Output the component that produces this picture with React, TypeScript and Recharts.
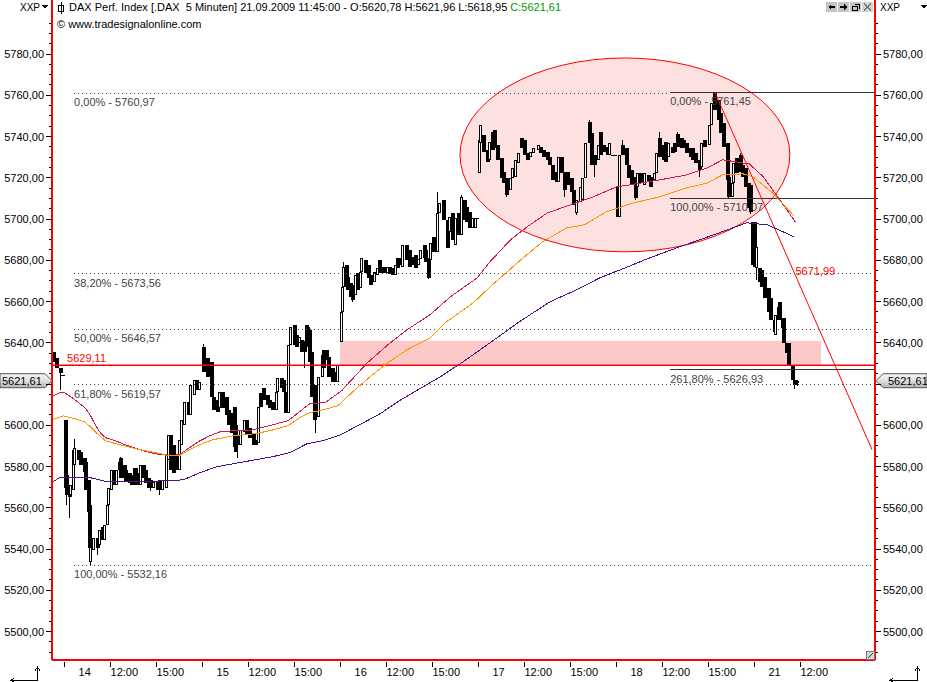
import React from 'react';
import {
  Bar,
  ComposedChart,
  Line,
  ReferenceArea,
  ReferenceDot,
  ReferenceLine,
  XAxis,
  YAxis,
} from 'recharts';

// 5 minute bars counted from 14.09. 09:00, one day is 108 bars
const bars13 = [-9, -7, -4, -2];
const opens13 = [5635.7, 5632.8, 5627.9, 5624.5];
const closes13 = [5630.8, 5627.9, 5625.5, 5624];

const bars14 = [0, 1, 3, 4, 6, 7, 10, 12, 15, 16, 18, 19, 20, 22, 25, 27, 29, 31, 33, 34, 36, 38, 40, 42, 43, 46, 47, 50, 52, 54, 55, 58, 59, 61, 63, 65, 67, 69, 72, 74, 76, 79, 81, 82, 85, 87, 89, 91, 93, 96, 98, 101, 103, 105];
const opens14 = [5602.7, 5576.1, 5571.2, 5566.4, 5568.8, 5580.9, 5588.2, 5587.2, 5584.3, 5582.4, 5573.6, 5561.5, 5533.9, 5539.7, 5545.5, 5542.2, 5550.9, 5544.6, 5551.8, 5561.5, 5568.8, 5578.5, 5571.2, 5578.5, 5584.3, 5580.9, 5578.5, 5577, 5576.1, 5572.2, 5579.4, 5577, 5571.2, 5580.9, 5578.5, 5574.6, 5573.6, 5569.8, 5572.7, 5573.6, 5568.8, 5569.8, 5583.3, 5595.4, 5590.6, 5585.8, 5578.5, 5590.6, 5600.3, 5611.4, 5605.1, 5614.8, 5622.1, 5617.2];
const closes14 = [5569.8, 5566.4, 5565.4, 5571.2, 5588.2, 5589.2, 5583.3, 5580.9, 5577.5, 5568.8, 5558.1, 5540.7, 5541.2, 5545.5, 5540.7, 5549.4, 5544.6, 5551.8, 5561.5, 5569.8, 5578.5, 5571.2, 5578.5, 5582.4, 5574.6, 5574.6, 5572.7, 5572.2, 5571.2, 5579.4, 5571.2, 5571.2, 5580.9, 5574.6, 5572.2, 5569.8, 5569.8, 5572.7, 5568.8, 5568.8, 5573.6, 5585.8, 5595.4, 5578.5, 5577, 5578.5, 5593, 5602.7, 5611.4, 5605.1, 5619.7, 5622.1, 5617.2, 5621.1];

const bars15 = [108, 111, 112, 114, 116, 119, 121, 123, 126, 128, 130, 132, 133, 135, 137, 140, 142, 144, 147, 149, 151, 153, 155, 158, 160, 162, 165, 166, 169, 171, 172, 175, 176, 179, 181, 183, 185, 187, 189, 191, 193, 195, 196, 198, 201, 202, 204, 206, 209, 211, 213];
const opens15 = [5638.1, 5632.7, 5630.3, 5630.8, 5613.8, 5612.4, 5608.5, 5616.3, 5613.8, 5607.6, 5606.1, 5609, 5600.3, 5595.4, 5590.6, 5596.9, 5602.7, 5598.8, 5596.4, 5593, 5591.6, 5615.8, 5618.2, 5614.8, 5612.4, 5611.4, 5607.6, 5616.3, 5623.1, 5622.1, 5616.3, 5606.1, 5639, 5648.7, 5643.9, 5640, 5641.5, 5639, 5648.7, 5646.3, 5635.7, 5619.7, 5612.4, 5604.2, 5623.5, 5636.6, 5636.6, 5633.2, 5627.9, 5626, 5621.1];
const closes15 = [5625.9, 5623.5, 5624.5, 5613.8, 5607.6, 5606.6, 5616.3, 5608.5, 5605.1, 5600.3, 5596.4, 5589.6, 5587.2, 5590.6, 5597.9, 5602.7, 5595.4, 5594, 5590.6, 5590.6, 5609, 5609, 5612.4, 5610, 5608.5, 5607.6, 5616.3, 5623.1, 5618.2, 5616.3, 5606.1, 5639, 5647.8, 5639, 5638.1, 5643, 5635.7, 5635.7, 5638.1, 5630.8, 5613.8, 5602.7, 5604.2, 5623.5, 5634.2, 5627.9, 5631.8, 5623.5, 5621.1, 5621.1, 5629.4];

const bars16 = [216, 217, 218, 220, 221, 223, 225, 227, 229, 231, 232, 235, 237, 239, 242, 244, 246, 249, 252, 254, 256, 258, 260, 263, 264, 267, 269, 271, 274, 276, 278, 281, 282, 284, 286, 288, 291, 293, 296, 299, 301, 303, 305, 308, 310, 312, 314, 316, 319, 321, 322];
const opens16 = [5640.5, 5655, 5667.1, 5677.8, 5672, 5669.1, 5668.1, 5663.3, 5673.9, 5666.7, 5674.4, 5680.2, 5677.8, 5673, 5669.6, 5673, 5680.2, 5676.8, 5673.9, 5676.8, 5676.4, 5673, 5681.2, 5681.2, 5676.8, 5687.5, 5685.1, 5681.7, 5682.7, 5677.8, 5680.7, 5687.5, 5685.1, 5681.2, 5680.2, 5691.4, 5684.1, 5703, 5709.3, 5699.6, 5693.8, 5703, 5687.5, 5703, 5692.3, 5709.3, 5705.9, 5703.5, 5695.7, 5695.7, 5700.6];
const closes16 = [5655, 5667.1, 5676.8, 5667.1, 5665.7, 5662.3, 5660.9, 5673, 5665.7, 5674.4, 5681.2, 5673.9, 5671.5, 5668.1, 5674.4, 5676.4, 5673.9, 5673.9, 5676.8, 5673.4, 5673, 5677.8, 5676.4, 5677.8, 5687.5, 5680.2, 5676.8, 5677.8, 5676.4, 5680.7, 5685.1, 5681.2, 5679.3, 5671.5, 5688.5, 5684.1, 5703, 5707.8, 5699.6, 5686, 5701.1, 5689.9, 5700.6, 5692.3, 5710.8, 5699.6, 5698.6, 5695.7, 5700.6, 5700.6, 5700.2];

const bars17 = [324, 325, 327, 330, 332, 334, 336, 338, 341, 343, 345, 348, 350, 352, 355, 357, 359, 362, 364, 366, 370, 372, 374, 377, 379, 381, 384, 386, 388, 391, 393, 396, 398, 400, 403, 405, 407, 410, 412, 414, 417, 419, 421, 424, 426, 428, 430];
const opens17 = [5722.4, 5736.9, 5740.8, 5733.5, 5728.7, 5742.2, 5743.2, 5735.9, 5729.6, 5722.9, 5720, 5714.1, 5720, 5720.4, 5727.2, 5739.3, 5738.4, 5732.1, 5730.1, 5732.1, 5733.5, 5735, 5733.5, 5732.6, 5730.1, 5726.3, 5722.9, 5718, 5730.1, 5722.9, 5722.9, 5720, 5714.1, 5703, 5708.3, 5709.3, 5720, 5747.1, 5741.8, 5731.1, 5728.7, 5742.2, 5735.9, 5735, 5731.1, 5731.1, 5731];
const closes17 = [5738.4, 5745.6, 5732.6, 5727.7, 5737.4, 5733.5, 5734.5, 5728.7, 5720, 5717.5, 5711.7, 5720, 5724.8, 5728.7, 5732.1, 5734.5, 5731.1, 5728.7, 5732.6, 5734.5, 5735.9, 5732.1, 5730.1, 5728.7, 5726.3, 5719, 5718, 5730.1, 5722.4, 5714.1, 5716.6, 5713.2, 5706.9, 5709.3, 5715.6, 5720, 5736.9, 5736.9, 5726.3, 5726.3, 5735.9, 5731.1, 5732.6, 5731.1, 5736.9, 5731, 5730.9];

const bars18 = [432, 434, 436, 439, 441, 443, 446, 448, 450, 453, 456, 458, 461, 463, 465, 468, 470, 472, 475, 477, 479, 482, 484, 486, 489, 491, 493, 496, 498, 500, 504, 506, 508, 511, 513, 515, 518, 519, 522, 523, 525, 528, 530, 532, 535, 536];
const opens18 = [5715.6, 5701.1, 5735.9, 5734.5, 5726.3, 5723.8, 5720.4, 5715.6, 5722.4, 5716.6, 5721.4, 5720.4, 5719, 5722.4, 5739.3, 5735.9, 5737.4, 5730.1, 5735, 5736.9, 5741.3, 5739.3, 5738.4, 5736.9, 5734.5, 5734.5, 5732.1, 5728.7, 5725.3, 5738.4, 5735.9, 5745.6, 5761.1, 5757.7, 5751.5, 5746.6, 5736.9, 5720.4, 5710.8, 5717.5, 5729.6, 5731.1, 5726.3, 5724.8, 5717.5, 5716.6];
const closes18 = [5701.1, 5731.1, 5731.1, 5726.3, 5720, 5716.6, 5710.3, 5722.4, 5717.5, 5722.4, 5718, 5715.6, 5722.4, 5732.1, 5730.1, 5728.7, 5727.7, 5736.9, 5732.1, 5732.6, 5735, 5734.5, 5734.5, 5732.1, 5730.1, 5728.7, 5727.2, 5723.8, 5736.9, 5735, 5745.6, 5756.3, 5752.9, 5748, 5741.8, 5735, 5719, 5710.8, 5717.5, 5727.2, 5722.4, 5722.9, 5720.4, 5715.6, 5705.4, 5703.5];

const bars21 = [538, 539, 541, 543, 545, 547, 550, 552, 555, 556, 558, 559, 561, 562, 564, 566, 569, 571, 573];
const opens21 = [5698.6, 5698.6, 5676.4, 5676.4, 5675.4, 5672, 5666.7, 5661.8, 5651.2, 5643.9, 5651.2, 5659.9, 5652.1, 5652.1, 5640, 5640, 5629.4, 5622.1, 5620.78];
const closes21 = [5677.8, 5676.8, 5686.5, 5669.6, 5667.1, 5661.8, 5655, 5651.2, 5645.3, 5653.6, 5657.5, 5651.2, 5647.3, 5640, 5635.2, 5629.4, 5622.1, 5619.7, 5621.61];

// long wicks that stick out of the bodies
const wickBars = [-4, 1, 3, 7, 20, 25, 43, 67, 74, 108, 135, 187, 191, 196, 218, 225, 284, 291, 310, 345, 391, 400, 410, 414, 436, 446, 465, 479, 496, 519, 528, 536, 541, 555, 571, 573];
const wickHighs = [5627.9, 5576.1, 5571.2, 5593.5, 5541.2, 5545.5, 5584.8, 5573.6, 5573.6, 5639.5, 5595.4, 5641, 5647.8, 5612.4, 5679, 5668.1, 5681.2, 5713.2, 5711.8, 5720, 5722.9, 5709.3, 5748, 5731.1, 5738.4, 5720.4, 5742.2, 5742.2, 5728.7, 5720.4, 5732, 5716.6, 5686.5, 5651.2, 5622.1, 5621.96];
const wickLows = [5617.2, 5561.5, 5555.2, 5580.9, 5532.2, 5537.3, 5574.6, 5568.3, 5566.4, 5625.9, 5584.3, 5627.9, 5630.8, 5596.4, 5667.1, 5659.9, 5671, 5684.1, 5692.3, 5710.8, 5710.8, 5702, 5736.9, 5720.4, 5731.1, 5709.3, 5730.1, 5735, 5720.4, 5710, 5722.9, 5702.5, 5670.5, 5644, 5617.7, 5618.95];

const maBarsRed = [-10, -4, 0, 6, 12, 16, 20, 24, 28, 32, 40, 47, 59, 67, 75, 83, 90, 98, 106, 114, 122, 133, 145, 157, 175, 186, 192, 204, 217, 219, 237, 253, 268, 286, 302, 323, 333, 349, 362, 378, 396, 414, 432, 448, 466, 487, 503, 515, 526, 536, 547, 557, 572];
const maRed = [5613.9, 5615.8, 5615.8, 5613.4, 5610.5, 5608.5, 5605.1, 5600.3, 5596.4, 5594, 5592.5, 5590.6, 5588.2, 5586.7, 5585.8, 5585.3, 5585.8, 5589.2, 5592.5, 5595, 5596.9, 5597.4, 5597.4, 5599.3, 5602.2, 5607.6, 5610.5, 5611, 5616.8, 5618.2, 5630.3, 5639, 5646.3, 5653.6, 5662.3, 5671.5, 5679.3, 5689.9, 5696.2, 5703, 5706.9, 5710.8, 5715.6, 5717.1, 5719, 5721.4, 5724.8, 5728.7, 5727.7, 5726.7, 5720.4, 5711.7, 5698.6];
const maBarsOrange = [-10, -1, 8, 16, 24, 32, 43, 59, 75, 83, 90, 98, 106, 116, 133, 149, 161, 175, 184, 192, 200, 214, 219, 229, 241, 253, 268, 286, 299, 320, 333, 358, 374, 393, 407, 424, 445, 466, 487, 503, 515, 531, 539, 554, 571];
const maOrange = [5602.7, 5604.6, 5603.2, 5601.7, 5596.9, 5592.5, 5590.6, 5588.2, 5586.2, 5585.3, 5585.3, 5588.2, 5590.6, 5593, 5595, 5595.9, 5597.4, 5599.8, 5603.7, 5606.1, 5607.1, 5609.5, 5612.4, 5618.2, 5624.5, 5630.3, 5636.6, 5642.4, 5650.2, 5659.4, 5667.1, 5680.7, 5688.9, 5695.7, 5697.2, 5703.5, 5707.8, 5710.8, 5715.1, 5717.5, 5721.4, 5721.9, 5720.4, 5712.7, 5701.5];
const maBarsPurple = [-10, -4, 8, 20, 33, 59, 85, 93, 106, 119, 137, 163, 176, 190, 202, 216, 231, 247, 262, 278, 294, 312, 333, 356, 380, 399, 419, 439, 456, 479, 497, 519, 534, 550, 571];
const maPurple = [5572.2, 5574.6, 5574.6, 5574.6, 5572.7, 5572.7, 5573.2, 5573.6, 5577, 5579.9, 5581.9, 5584.8, 5586.7, 5591.1, 5592.5, 5595.4, 5600.3, 5605.6, 5611.9, 5617.7, 5623.5, 5630.8, 5640, 5650.2, 5659.9, 5665.2, 5671.5, 5676.4, 5680.7, 5686, 5689.9, 5694.8, 5698.2, 5697.2, 5691.4];

// fibonacci levels: dotted ones start left, solid ones belong to the last swing
const fibLabels = ['0,00% - 5760,97', '38,20% - 5673,56', '50,00% - 5646,57', '61,80% - 5619,57', '100,00% - 5532,16'];
const fibPrices = [5760.97, 5673.56, 5646.57, 5619.57, 5532.16];
const swingLabels = ['0,00% - 5761,45', '100,00% - 5710,07', '261,80% - 5626,93'];
const swingPrices = [5761.45, 5710.07, 5626.93];

const xTicks = [0, 36, 72, 108, 144, 180, 216, 252, 288, 324, 360, 396, 432, 468, 504, 540, 576];
const xLabels = ['14', '12:00', '15:00', '15', '12:00', '15:00', '16', '12:00', '15:00', '17', '12:00', '15:00', '18', '12:00', '15:00', '21', '12:00'];
const yTicks: number[] = [];
for (let p = 5490; p <= 5795; p += 5) yTicks.push(p);
const COVERED_TICK = 5620; // hidden behind the last price tag

const X_MIN = -9.8;
const X_MAX = 634.3;
const Y_MIN = 5486.2;
const Y_MAX = 5806.2;
const FONT = '"Liberation Sans", Arial, sans-serif';
const LAST = 5621.61;

const wickTable = new Map(wickBars.map((b, i) => [b, { high: wickHighs[i], low: wickLows[i] }]));
const allBars = [...bars13, ...bars14, ...bars15, ...bars16, ...bars17, ...bars18, ...bars21];
const allOpens = [...opens13, ...opens14, ...opens15, ...opens16, ...opens17, ...opens18, ...opens21];
const allCloses = [...closes13, ...closes14, ...closes15, ...closes16, ...closes17, ...closes18, ...closes21];
const candles = allBars.map((bar, i) => {
  const open = allOpens[i];
  const close = allCloses[i];
  const w = wickTable.get(bar);
  const high = Math.max(open, close, w ? w.high : 0);
  const low = Math.min(open, close, w ? w.low : 99999);
  return { bar, open, close, high, low, range: [low, high] };
});
const toLine = (xs: number[], ys: number[]) => xs.map((bar, i) => ({ bar, v: ys[i] }));

function Candle(props: any) {
  const { x, y, width, height, payload } = props;
  const { open, close, high, low } = payload;
  const perPoint = high > low ? height / (high - low) : 0;
  const top = y + (high - Math.max(open, close)) * perPoint;
  const bodyH = Math.max(Math.abs(open - close) * perPoint, 1);
  const left = Math.round(x);
  const mid = left + 1.5;
  const up = close > open;
  return (
    <g shapeRendering="crispEdges">
      <line x1={mid} x2={mid} y1={y} y2={y + height} stroke="#000" />
      {up ? (
        <rect x={left + 0.5} y={Math.round(top) + 0.5} width={2} height={Math.max(Math.round(bodyH) - 1, 0)} fill="#fff" stroke="#000" />
      ) : (
        <rect x={left} y={Math.round(top)} width={4} height={Math.max(Math.round(bodyH), 1)} fill="#000" />
      )}
    </g>
  );
}

function LeftTick(props: any) {
  const { x, y, payload } = props;
  const major = payload.value % 20 === 0;
  return (
    <g>
      <line x1={x - (major ? 6 : 3)} x2={x - 1} y1={y} y2={y} stroke="#000" shapeRendering="crispEdges" />
      {major && payload.value !== COVERED_TICK && (
        <text x={x - 8} y={y + 4} textAnchor="end" fontSize={11} fontFamily={FONT} fill="#000">
          {payload.value},00
        </text>
      )}
    </g>
  );
}

function RightTick(props: any) {
  const { x, y, payload } = props;
  const major = payload.value % 20 === 0;
  return (
    <g>
      <line x1={x + 1} x2={x + (major ? 6 : 3)} y1={y} y2={y} stroke="#000" shapeRendering="crispEdges" />
      {major && payload.value !== COVERED_TICK && (
        <text x={x + 8} y={y + 4} fontSize={11} fontFamily={FONT} fill="#000">
          {payload.value},00
        </text>
      )}
    </g>
  );
}

function TimeTick(props: any) {
  const { x, payload } = props;
  const text = xLabels[xTicks.indexOf(payload.value)];
  const isDay = text.length === 2;
  return (
    <g>
      <line x1={x} x2={x} y1={662} y2={667} stroke="#000" shapeRendering="crispEdges" />
      <text x={x + (isDay ? 14 : 0)} y={676} fontSize={11} fontFamily={FONT} fill="#000">
        {text}
      </text>
    </g>
  );
}

function EllipseShape(props: any) {
  const { x, y, width, height } = props;
  return (
    <ellipse
      cx={x + width / 2}
      cy={y + height / 2}
      rx={width / 2}
      ry={height / 2}
      fill="#fde1e1"
      stroke="#f00"
      strokeWidth={1}
    />
  );
}

const caption = (fill: string, text: string, dx: number, dy: number) => (props: any) => (
  <text x={props.cx + dx} y={props.cy + dy} fontSize={11} fontFamily={FONT} fill={fill}>
    {text}
  </text>
);

function PriceTag(props: any & { side: 'left' | 'right' }) {
  const { cx, cy, side } = props;
  const pts =
    side === 'left'
      ? `${cx - 52},${cy - 7} ${cx - 7},${cy - 7} ${cx},${cy} ${cx - 7},${cy + 7} ${cx - 52},${cy + 7}`
      : `${cx + 1},${cy} ${cx + 8},${cy - 7} ${cx + 52},${cy - 7} ${cx + 52},${cy + 7} ${cx + 8},${cy + 7}`;
  const id = `tag-${side}`;
  return (
    <g>
      <defs>
        <linearGradient id={id} x1="0" y1="0" x2="0" y2="1">
          <stop offset="0" stopColor="#f4f4f4" />
          <stop offset="0.5" stopColor="#e0e0e0" />
          <stop offset="1" stopColor="#b4b4b4" />
        </linearGradient>
      </defs>
      <polygon points={pts} fill={`url(#${id})`} stroke="#555" />
      <text x={side === 'left' ? cx - 50 : cx + 13} y={cy + 4} fontSize={11} fontFamily={FONT} fill="#000">
        {LAST.toFixed(2).replace('.', ',')}
      </text>
    </g>
  );
}

function Chrome() {
  const base: React.CSSProperties = { position: 'absolute', fontFamily: FONT, fontSize: 11, lineHeight: '13px', whiteSpace: 'pre', color: '#000' };
  return (
    <>
      <div style={{ ...base, left: 20, top: 1, fontSize: 10 }}>XXP</div>
      <div style={{ ...base, left: 880, top: 1, fontSize: 10 }}>XXP</div>
      <div style={{ ...base, left: 69, top: 1 }}>
        DAX Perf. Index [.DAX  5 Minuten] 21.09.2009 11:45:00 - O:5620,78 H:5621,96 L:5618,95 <span style={{ color: '#009a00' }}>C:5621,61</span>
      </div>
      <div style={{ ...base, left: 57, top: 18 }}>© www.tradesignalonline.com</div>
      <svg width={927} height={682} style={{ position: 'absolute', left: 0, top: 0, pointerEvents: 'none' }} shapeRendering="crispEdges">
        {/* header marks */}
        <path d="M42 5 H48 L45 9 Z" fill="#000" />
        <path d="M921 5 H927 L924 9 Z" fill="#000" />
        <path d="M61 2 V14 M58.5 5.5 H63.5 V11.5 H58.5 Z" fill="none" stroke="#000" />
        {/* window buttons */}
        <rect x={826} y={2} width={11} height={10} fill="#c4c4c4" />
        <path d="M828 7 L831 4 V6 H835 V8 H831 V10 Z" fill="#000" />
        <rect x={838} y={2} width={11} height={10} fill="#c4c4c4" />
        <path d="M847 7 L844 4 V6 H840 V8 H844 V10 Z" fill="#000" />
        <rect x={850} y={2} width={11} height={10} fill="#c4c4c4" />
        <path d="M852.5 6.5 H857.5 V10.5 H852.5 Z M854.5 4.5 H859.5 V8.5" fill="none" stroke="#000" />
        <rect x={862} y={2} width={11} height={10} fill="#d4d4d4" />
        <path d="M864 3.5 L871 10.5 M871 3.5 L864 10.5" stroke="#777" />
        {/* corner arrows under the axes */}
        <path d="M11.5 680.5 H37.5 V668 M35 670.5 L37.5 667 L40 670.5 M14 678 L11 680.5 L14 682" fill="none" stroke="#000" />
        <path d="M890.5 680.5 H917.5 V668 M915 670.5 L917.5 667 L920 670.5 M893 678 L890 680.5 L893 682" fill="none" stroke="#000" />
        {/* resize handle */}
        <rect x={866.5} y={651.5} width={8} height={8} fill="#d8d8d8" stroke="#777" />
        <path d="M868 658 L873 653" stroke="#333" />
      </svg>
    </>
  );
}

export default function App() {
  return (
    <div style={{ position: 'absolute', left: 0, top: 0, width: 927, height: 682, background: '#fff', overflow: 'hidden' }}>
      <ComposedChart width={927} height={682} data={candles} margin={{ top: 0, right: 0, bottom: 0, left: 0 }}>
        <XAxis
          dataKey="bar"
          type="number"
          domain={[X_MIN, X_MAX]}
          allowDataOverflow
          ticks={xTicks}
          interval={0}
          height={22}
          tick={<TimeTick />}
          tickLine={false}
          axisLine={{ stroke: '#f00', strokeWidth: 2 }}
        />
        <YAxis
          yAxisId="left"
          orientation="left"
          width={52}
          domain={[Y_MIN, Y_MAX]}
          allowDataOverflow
          ticks={yTicks}
          interval={0}
          tick={<LeftTick />}
          tickLine={false}
          tickSize={0}
          tickMargin={0}
          axisLine={{ stroke: '#f00', strokeWidth: 2 }}
        />
        <YAxis
          yAxisId="right"
          orientation="right"
          width={52}
          domain={[Y_MIN, Y_MAX]}
          allowDataOverflow
          ticks={yTicks}
          interval={0}
          tick={<RightTick />}
          tickLine={false}
          tickSize={0}
          tickMargin={0}
          axisLine={{ stroke: '#f00', strokeWidth: 2 }}
        />

        {fibPrices.map((p, i) => (
          <ReferenceLine
            key={p}
            yAxisId="left"
            segment={[{ x: 7.5, y: p }, { x: i === 0 ? 474 : X_MAX, y: p }]}
            stroke="#444"
            strokeDasharray="1 3"
            shapeRendering="crispEdges"
          />
        ))}
        <ReferenceArea yAxisId="left" x1={309.5} x2={567.7} y1={5684.1} y2={5778.1} shape={<EllipseShape />} ifOverflow="visible" />
        <ReferenceArea yAxisId="left" x1={215.6} x2={592} y1={5629.11} y2={5641} fill="#fdc8c8" fillOpacity={1} stroke="none" />
        {swingPrices.map((p) => (
          <ReferenceLine key={p} yAxisId="left" segment={[{ x: 474, y: p }, { x: X_MAX, y: p }]} stroke="#333" shapeRendering="crispEdges" />
        ))}
        <ReferenceLine
          yAxisId="left"
          segment={[{ x: X_MIN, y: 5629.11 }, { x: X_MAX, y: 5629.11 }]}
          stroke="#ff0000"
          strokeWidth={1.6}
        />
        <ReferenceLine yAxisId="left" segment={[{ x: 509, y: 5761.45 }, { x: 632, y: 5588.2 }]} stroke="#f00" />

        <Bar yAxisId="left" dataKey="range" barSize={3} shape={<Candle />} isAnimationActive={false} />
        <Line yAxisId="left" data={toLine(maBarsPurple, maPurple)} dataKey="v" stroke="#4f1085" strokeWidth={1} dot={false} activeDot={false} isAnimationActive={false} shapeRendering="crispEdges" />
        <Line yAxisId="left" data={toLine(maBarsRed, maRed)} dataKey="v" stroke="#d5184f" strokeWidth={1} dot={false} activeDot={false} isAnimationActive={false} shapeRendering="crispEdges" />
        <Line yAxisId="left" data={toLine(maBarsOrange, maOrange)} dataKey="v" stroke="#ff9400" strokeWidth={1} dot={false} activeDot={false} isAnimationActive={false} shapeRendering="crispEdges" />

        {fibPrices.map((p, i) => (
          <ReferenceDot key={p} yAxisId="left" x={7.5} y={p} r={0} shape={caption('#444', fibLabels[i], 0, 13)} ifOverflow="visible" />
        ))}
        {swingPrices.map((p, i) => (
          <ReferenceDot key={p} yAxisId="left" x={474} y={p} r={0} shape={caption('#444', swingLabels[i], 0, 13)} ifOverflow="visible" />
        ))}
        <ReferenceDot yAxisId="left" x={2} y={5629.11} r={0} shape={caption('#f00', '5629,11', 0, -3)} ifOverflow="visible" />
        <ReferenceDot yAxisId="left" x={572} y={5671.99} r={0} shape={caption('#f00', '5671,99', 0, -2)} ifOverflow="visible" />
        <ReferenceDot yAxisId="left" x={X_MIN} y={LAST} r={0} shape={<PriceTag side="left" />} ifOverflow="visible" />
        <ReferenceDot yAxisId="left" x={X_MAX} y={LAST} r={0} shape={<PriceTag side="right" />} ifOverflow="visible" />
      </ComposedChart>
      <Chrome />
    </div>
  );
}
